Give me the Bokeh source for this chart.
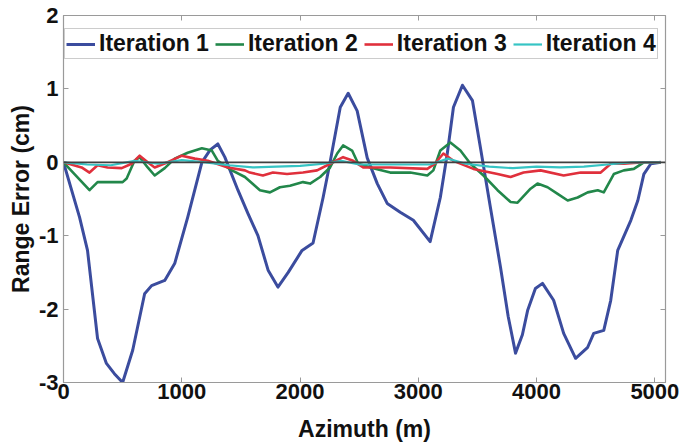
from bokeh.plotting import figure
from bokeh.models import (Range1d, LinearAxis, Legend, LegendItem, Span, FixedTicker,
                          PrintfTickFormatter, CustomLabelingPolicy)
from bokeh.embed import file_html
from bokeh.resources import INLINE

# ---- data ----
it1_x = [0, 136, 203, 288, 363, 430, 500, 585, 686, 745, 856, 940, 1050, 1170, 1240, 1305, 1364,
         1475, 1560, 1644, 1730, 1813, 1900, 2017, 2110, 2195, 2254, 2340, 2407, 2483, 2568, 2653,
         2737, 2847, 2958, 3100, 3186, 3245, 3297, 3373, 3458, 3525, 3610, 3695, 3760, 3822, 3880,
         3924, 3990, 4050, 4144, 4229, 4330, 4432, 4483, 4568, 4627, 4686, 4797, 4856, 4907, 4966, 5050]
it1_y = [0, -0.75, -1.2, -2.4, -2.74, -2.88, -3.0, -2.56, -1.79, -1.68, -1.61, -1.38, -0.75, 0.0,
         0.17, 0.25, 0.07, -0.38, -0.7, -1.0, -1.47, -1.7, -1.5, -1.2, -1.1, -0.48, 0.0, 0.75, 0.94,
         0.7, 0.06, -0.29, -0.56, -0.68, -0.79, -1.08, -0.48, 0.12, 0.75, 1.05, 0.84, 0.2, -0.62,
         -1.43, -2.1, -2.6, -2.35, -2.02, -1.72, -1.65, -1.88, -2.33, -2.67, -2.52, -2.33, -2.29,
         -1.88, -1.2, -0.79, -0.52, -0.16, -0.02, 0]

it2_x = [0, 93, 220, 288, 373, 500, 534, 600, 644, 712, 771, 856, 940, 1050, 1170, 1254, 1305, 1424,
         1534, 1661, 1746, 1830, 1915, 2025, 2085, 2170, 2254, 2314, 2364, 2440, 2492, 2619, 2763,
         2932, 3076, 3127, 3186, 3271, 3356, 3441, 3551, 3670, 3780, 3839, 3949, 4008, 4093, 4178,
         4263, 4347, 4432, 4517, 4568, 4653, 4737, 4822, 4907, 5050]
it2_y = [0, -0.16, -0.38, -0.27, -0.27, -0.27, -0.22, 0.02, 0.07, -0.07, -0.18, -0.08, 0.05, 0.13,
         0.19, 0.16, 0.02, -0.11, -0.2, -0.38, -0.41, -0.34, -0.32, -0.27, -0.29, -0.2, -0.07, 0.12,
         0.23, 0.16, -0.02, -0.08, -0.14, -0.14, -0.18, -0.11, 0.16, 0.27, 0.16, -0.02, -0.18,
         -0.38, -0.54, -0.55, -0.36, -0.29, -0.34, -0.43, -0.52, -0.48, -0.41, -0.38, -0.41, -0.16,
         -0.11, -0.09, 0, 0]

it3_x = [0, 153, 220, 288, 373, 492, 576, 644, 712, 771, 881, 1000, 1110, 1220, 1390, 1534, 1576,
         1686, 1771, 1890, 2025, 2144, 2254, 2364, 2449, 2534, 2763, 3076, 3140, 3212, 3297, 3466,
         3670, 3780, 3890, 4034, 4229, 4373, 4542, 4627, 4737, 4907, 5050]
it3_y = [0, -0.07, -0.14, -0.04, -0.07, -0.08, -0.02, 0.09, 0, -0.07, 0, 0.09, 0.05, 0.02, -0.07,
         -0.11, -0.14, -0.18, -0.14, -0.16, -0.14, -0.11, -0.02, 0.07, 0.02, -0.07, -0.07, -0.09,
         -0.02, 0.12, 0.02, -0.09, -0.16, -0.2, -0.14, -0.11, -0.18, -0.14, -0.14, -0.02, -0.02, 0, 0]

it4_x = [0, 200, 400, 600, 800, 1000, 1200, 1400, 1600, 1800, 2000, 2200, 2350, 2500, 2800, 3100,
         3250, 3400, 3600, 3800, 4000, 4200, 4400, 4600, 4800, 5050]
it4_y = [0, -0.03, -0.04, 0.02, -0.02, 0.03, 0, -0.04, -0.07, -0.06, -0.05, -0.02, 0.02, -0.03,
         -0.03, -0.03, 0.05, -0.02, -0.06, -0.08, -0.06, -0.07, -0.06, -0.03, 0, 0]

series_names = ["Iteration 1", "Iteration 2", "Iteration 3", "Iteration 4"]
x_ticks = [0, 1000, 2000, 3000, 4000, 5000]
y_ticks = [-3, -2, -1, 0, 1, 2]

colors = ["#3b4c9e", "#22874a", "#e0303c", "#36c4c4"]
widths = [3, 2.6, 2.6, 2.2]

FONT = "Liberation Sans"

p = figure(width=690, height=444, output_backend="svg", toolbar_location=None,
           x_range=Range1d(0, 5090), y_range=Range1d(-3, 2),
           min_border_left=63, min_border_right=25, min_border_top=15, min_border_bottom=62)
p.xgrid.visible = False
p.ygrid.visible = False
p.outline_line_color = "#9a9a9a"
p.outline_line_width = 1.2

p.add_layout(Span(location=0, dimension="width", line_color="#404040", line_width=1.8))

renderers = []
for xs, ys, c, w in zip([it1_x, it2_x, it3_x, it4_x], [it1_y, it2_y, it3_y, it4_y], colors, widths):
    r = p.line(xs, ys, line_color=c, line_width=w, line_join="round")
    renderers.append(r)

# axes
for ax in (p.xaxis[0], p.yaxis[0]):
    ax.major_tick_in = 5
    ax.major_tick_out = 0
    ax.minor_tick_line_color = None
    ax.axis_line_color = "#9a9a9a"
    ax.major_tick_line_color = "#9a9a9a"
    ax.major_label_text_font = FONT
    ax.major_label_text_font_style = "bold"
    ax.major_label_text_font_size = "22px"
    ax.major_label_text_color = "#111111"
    ax.axis_label_text_font = FONT
    ax.axis_label_text_font_style = "bold"
    ax.axis_label_text_font_size = "23px"
    ax.axis_label_text_color = "#111111"
    ax.formatter = PrintfTickFormatter(format="%d")

p.xaxis[0].ticker = FixedTicker(ticks=x_ticks)
p.yaxis[0].ticker = FixedTicker(ticks=y_ticks)
p.xaxis[0].axis_label = "Azimuth (m)"
p.yaxis[0].axis_label = "Range Error (cm)"
p.xaxis[0].major_label_standoff = 1
p.xaxis[0].axis_label_standoff = 14
p.yaxis[0].major_label_standoff = 5
p.yaxis[0].axis_label_standoff = 2

no_labels = "for (const i of indices) { indices.unset(i) }\nreturn indices"
top_ax = LinearAxis(ticker=FixedTicker(ticks=x_ticks), major_label_text_font_size="0px",
                    major_label_standoff=0,
                    major_label_policy=CustomLabelingPolicy(code=no_labels),
                    major_tick_in=5, major_tick_out=0, minor_tick_line_color=None,
                    axis_line_color=None, major_tick_line_color="#9a9a9a")
right_ax = LinearAxis(ticker=FixedTicker(ticks=y_ticks), major_label_text_font_size="0px",
                      major_label_standoff=0,
                      major_label_policy=CustomLabelingPolicy(code=no_labels),
                      major_tick_in=5, major_tick_out=0, minor_tick_line_color=None,
                      axis_line_color=None, major_tick_line_color="#9a9a9a")
p.add_layout(top_ax, "above")
p.add_layout(right_ax, "right")

legend = Legend(items=[LegendItem(label=n, renderers=[r]) for n, r in zip(series_names, renderers)],
                orientation="horizontal", location=(1, 323),
                glyph_width=29, glyph_height=20, label_standoff=4, spacing=6,
                padding=1, margin=0, label_height=20,
                label_text_font=FONT, label_text_font_style="bold", label_text_font_size="23px",
                label_text_color="#111111",
                border_line_color="#9a9a9a", border_line_width=1.2,
                background_fill_color="white", background_fill_alpha=1)
p.add_layout(legend, "center")

open("out.html", "w").write(file_html(p, INLINE))
